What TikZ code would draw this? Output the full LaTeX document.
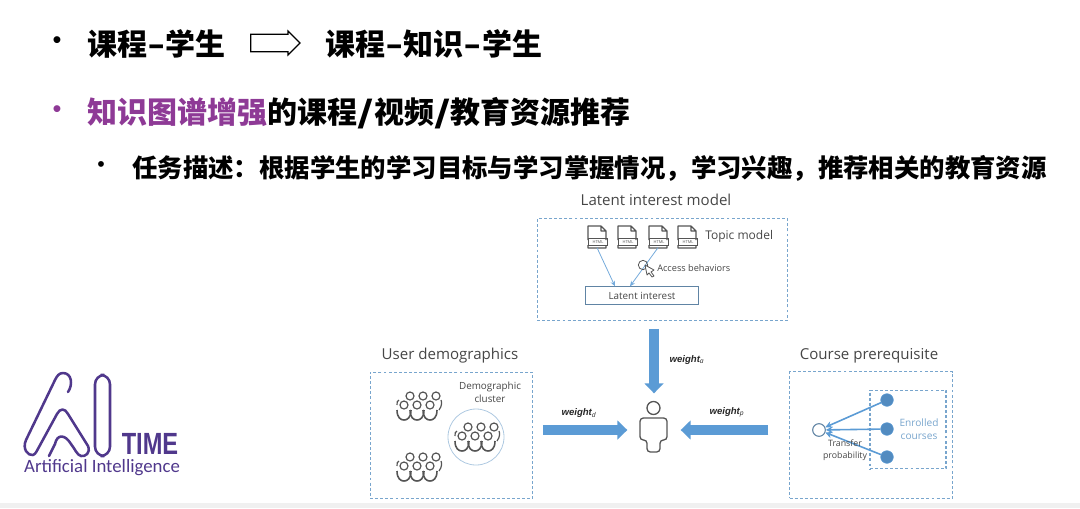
\documentclass[tikz,border=0pt]{standalone}
\usepackage{fontspec}
\setmainfont{Open Sans}
\newfontfamily\cjkfont{Noto Sans CJK SC}
\newfontfamily\weightfont{Liberation Sans}
\newfontfamily\logofont{Carlito}
\definecolor{TitlePurple}{RGB}{142, 58, 150}
\definecolor{LogoPurple}{RGB}{80, 56, 140}
\definecolor{BoxBlue}{RGB}{120, 165, 205}
\definecolor{ArrowBlue}{RGB}{91, 155, 213}
\definecolor{IconGray}{RGB}{85, 85, 85}
\definecolor{LabelGray}{RGB}{70, 70, 70}
\newcommand{\hyph}{\scalebox{1.6}[1]{-}}
\newcommand{\slashmark}{\scalebox{1.45}[1]{/}}
\usetikzlibrary{shapes,arrows.meta,positioning,calc}
\tikzset{
  headline/.style={anchor=west, inner sep=0pt, font=\cjkfont\bfseries\fontsize{22.5}{24}\selectfont},
  subline/.style={anchor=west, inner sep=0pt, font=\cjkfont\bfseries\fontsize{19.05}{22}\selectfont},
  bulletmark/.style={inner sep=0pt, font=\weightfont\fontsize{19}{20}\selectfont},
  dashbox/.style={draw=BoxBlue, dash pattern=on 2.2pt off 1.6pt, line width=0.9pt, inner sep=0pt},
  paneltitle/.style={inner sep=0pt, text=LabelGray, font=\fontsize{11.3}{13}\selectfont},
  smalllabel/.style={inner sep=0pt, text=LabelGray, align=center, font=\fontsize{7.4}{9.8}\selectfont},
  weightlabel/.style={inner sep=0pt, text=black!85, font=\weightfont\bfseries\itshape\fontsize{7.2}{9}\selectfont},
  blockarrow/.style={draw=ArrowBlue, line width=7pt, -{Triangle[length=7.5pt,width=14pt]}},
  thinarrow/.style={draw=ArrowBlue!85, line width=0.6pt, -{Stealth[length=4pt,width=3.5pt]}},
  linkarrow/.style={draw=ArrowBlue, line width=1.2pt, -{Stealth[length=5pt,width=5pt]}},
  coursedot/.style={circle, fill=ArrowBlue!90!black, draw=ArrowBlue, minimum size=9.5pt, inner sep=0pt},
  docnode/.style={minimum width=15pt, minimum height=16pt, inner sep=0pt, outer sep=0pt},
  docicon/.pic={
    \draw[IconGray, line width=0.9pt, line join=round] (-9,3) -- (-9,-11) -- (4,-11) -- (9,-6) -- (9,3)
      (-9,8) -- (-9,11) -- (9,11) -- (9,8) (4,-11) -- (4,-6) -- (9,-6);
    \node[draw=IconGray, line width=0.6pt, minimum width=14pt, minimum height=5.5pt, inner sep=0pt,
      text=IconGray, font=\fontsize{3}{3}\selectfont] at (1,5) {HTML};
  },
  crowd/.pic={
    \foreach \hx in {-9,4,17} {\draw[IconGray, line width=0.9pt] (\hx,-10) circle (4);}
    \foreach \hx in {-15,-2,11} {
      \draw[IconGray, line width=0.9pt] (\hx,-1) circle (4);
      \draw[IconGray, line width=1.2pt] (\hx-7,4) .. controls (\hx-7,12) and (\hx-3,14) .. (\hx,14)
        .. controls (\hx+3,14) and (\hx+7,12) .. (\hx+7,4);
    }
    \draw[IconGray, line width=0.9pt] (-22,-1) .. controls (-23,-4) and (-21,-5) .. (-20,-6)
      (22,-6) .. controls (23,-4) and (23,0) .. (20,4);
  }
}

\begin{document}
\begin{tikzpicture}[x=0.75pt, y=-0.75pt]
  \useasboundingbox (0,0) rectangle (1080,508);
  \fill[black!6] (0,503) rectangle (1080,508);

  % title lines
  \node[bulletmark] (bulleta) at (57,43) {•};
  \node[headline] (oldmodel) at (87,44) {课程\hyph 学生};
  \node[headline] (newmodel) at (325,44) {课程\hyph 知识\hyph 学生};
  \node[single arrow, draw=black, line width=0.9pt, text height=9.5pt, minimum width=18pt, minimum height=37pt,
        single arrow head extend=2pt, inner sep=0pt] (modelarrow) at (271,43) {};
  \node[bulletmark, text=TitlePurple] (bulletb) at (57,112) {•};
  \node[headline] (tasktitle) at (87,113) {\textcolor{TitlePurple}{知识图谱增强}的课程\slashmark 视频\slashmark 教育资源推荐};
  \node[bulletmark, font=\weightfont\fontsize{16}{18}\selectfont] (bulletc) at (101,167) {•};
  \node[subline] (taskline) at (132,168) {任务描述：根据学生的学习目标与学习掌握情况，学习兴趣，推荐相关的教育资源};

  % latent interest model
  \node[paneltitle] (latenttitle) at (656,200) {Latent interest model};
  \node[dashbox, minimum width=188pt, minimum height=76pt] (latentpanel) at (662.5,269.5) {};
  \foreach \name/\xpos in {doca/597,docb/627,docc/658,docd/687} {
    \node[docnode] (\name) at (\xpos,237) {};
    \pic at (\name) {docicon};
  }
  \node[smalllabel, font=\fontsize{9}{10}\selectfont, anchor=west] (topiclabel) at (705,236) {Topic model};
  \node[draw=BoxBlue!80!black, line width=0.8pt, minimum width=85pt, minimum height=13pt, inner sep=0pt,
        text=LabelGray, font=\fontsize{7.4}{8}\selectfont] (latentint) at (642,295.5) {Latent interest};
  \draw[thinarrow] (doca.south) -- ($(latentint.north)+(-27,0)$);
  \draw[thinarrow] (docc.south) -- ($(latentint.north)+(-12,0)$);
  \node[smalllabel, font=\fontsize{6.9}{8}\selectfont, anchor=west] (accesslabel) at (657,268) {Access behaviors};
  \node[circle, draw=IconGray, line width=0.6pt, minimum size=7pt, inner sep=0pt] (cursor) at (643,265) {};
  \draw[IconGray, fill=white, line width=0.6pt, line join=round] (645,265) -- (654,270) -- (651,272) -- (654,276)
    -- (652,277) -- (649,273) -- (647,275) -- cycle;

  % user demographics
  \node[paneltitle] (usertitle) at (450,355.5) {User demographics};
  \node[dashbox, minimum width=122pt, minimum height=95pt] (userpanel) at (451.5,435.5) {};
  \pic at (419,406) {crowd};
  \pic at (419,467) {crowd};
  \node[circle, draw=BoxBlue!60, line width=0.6pt, minimum size=42pt, inner sep=0pt] (clusterring) at (476,437) {};
  \pic at (477,437) {crowd};
  \node[smalllabel] (clusterlabel) at (490,392) {Demographic\\cluster};

  % course prerequisite
  \node[paneltitle] (coursetitle) at (869,355.5) {Course prerequisite};
  \node[dashbox, minimum width=122pt, minimum height=95pt] (coursepanel) at (871,435) {};
  \node[dashbox, minimum width=57pt, minimum height=59pt] (enrolledpanel) at (908,429.5) {};
  \node[circle, draw=BoxBlue!80!black, fill=white, line width=0.8pt, minimum size=9.5pt, inner sep=0pt] (target) at (819,430) {};
  \node[coursedot] (coursea) at (887,400) {};
  \node[coursedot] (courseb) at (887,429) {};
  \node[coursedot] (coursec) at (887,457) {};
  \foreach \name in {coursea,courseb,coursec} {
    \draw[linkarrow] (\name) -- (target);
  }
  \node[smalllabel, text=BoxBlue, font=\fontsize{7.6}{9.6}\selectfont] (enrolledlabel) at (919,429.5) {Enrolled\\courses};
  \node[smalllabel, font=\fontsize{6.6}{9}\selectfont] (transferlabel) at (845,450) {Transfer\\probability};

  % person and weights
  \node[minimum width=20pt, minimum height=45pt, inner sep=0pt, outer sep=0pt] (person) at (654,430) {};
  \draw[IconGray, line width=1pt] (653.5,408) circle (6.5);
  \draw[IconGray, line width=1pt, rounded corners=2.5pt] (640,418) -- (667,418) -- (667,440) -- (660,440)
    -- (660,452) -- (647,452) -- (647,440) -- (640,440) -- cycle;
  \draw[blockarrow, shorten <=6pt, shorten >=5pt] (latentpanel.south -| person) -- (person.north);
  \draw[blockarrow, shorten <=7pt, shorten >=10pt] (userpanel.east |- person) -- (person.west);
  \draw[blockarrow, shorten <=15.5pt, shorten >=10pt] (coursepanel.west |- person) -- (person.east);
  \node[weightlabel] (weighta) at (687,360) {weight$_{\mathit{a}}$};
  \node[weightlabel] (weightd) at (579,413) {weight$_{\mathit{d}}$};
  \node[weightlabel] (weightp) at (727,412) {weight$_{\mathit{p}}$};

  % logo
  \draw[LogoPurple, line width=1.9pt, line cap=round, line join=round]
    (68,392) .. controls (73,385) and (72,373) .. (63,373) .. controls (59,373) and (57,376) .. (55,380)
    -- (26,440) .. controls (22,449) and (28,456) .. (33,455) .. controls (36,454) and (37,450) .. (39,447)
    -- (57,414) .. controls (60,408) and (65,408) .. (68,414)
    -- (88,446) .. controls (91,453) and (85,457) .. (81,456) .. controls (77,455) and (75,449) .. (71,444)
    .. controls (65,434) and (57,434) .. (55,444) -- (49,456);
  \draw[LogoPurple, line width=1.9pt, rounded corners=7pt] (95,375) rectangle (110,456);
  \node[inner sep=0pt, text=LogoPurple, font=\weightfont\bfseries\fontsize{23}{23}\selectfont] (logotime) at (150,444) {\scalebox{0.77}[1]{TIME}};
  \node[inner sep=0pt, text=LogoPurple, font=\logofont\fontsize{14.1}{15}\selectfont] (logotext) at (102,468) {Artificial Intelligence};
\end{tikzpicture}
\end{document}
